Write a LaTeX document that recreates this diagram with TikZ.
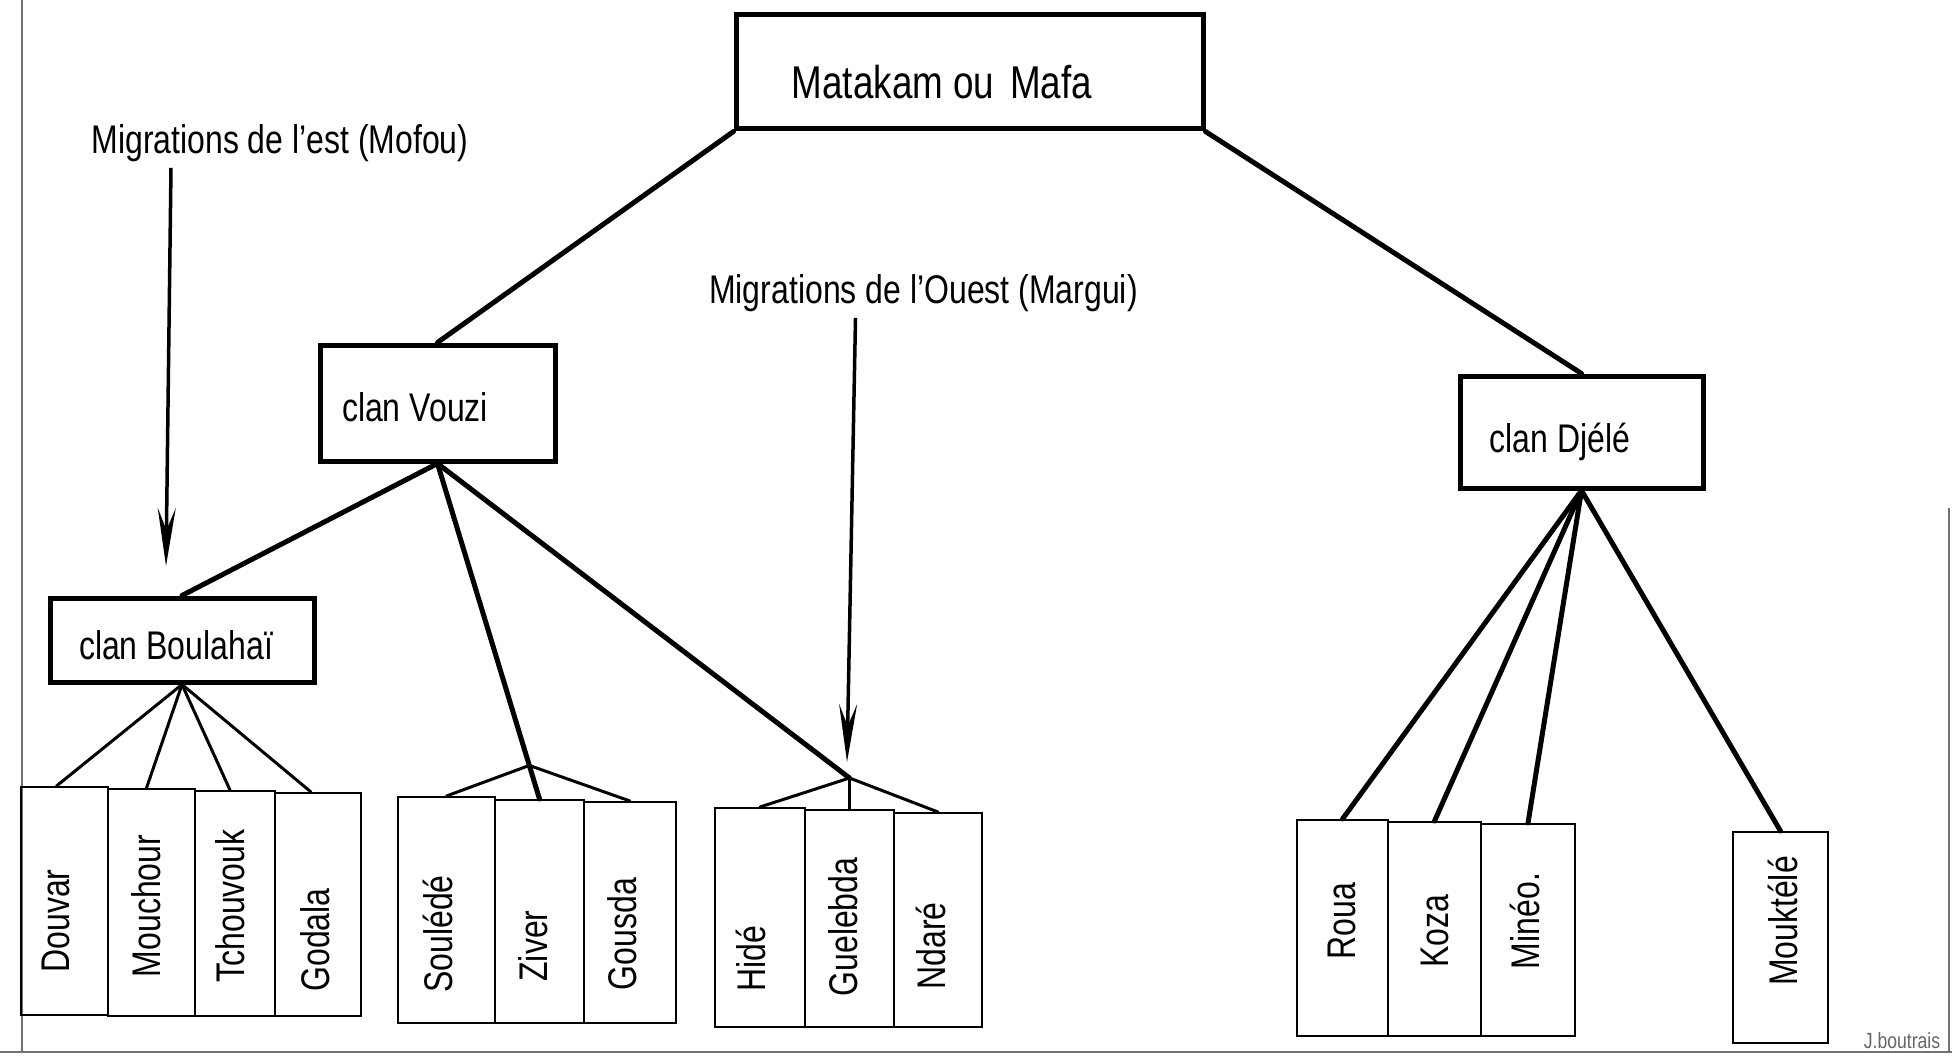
\documentclass[tikz,border=0pt]{standalone}
\usepackage{fontspec}
\setmainfont{Liberation Sans}[FakeStretch=0.8]
\usetikzlibrary{arrows.meta,calc}
\begin{document}
\begin{tikzpicture}[x=1pt,y=-1pt,
  clanbox/.style={draw, line width=5pt, inner sep=0pt},
  leafbox/.style={draw, line width=2pt, inner sep=0pt},
  lbl/.style={inner sep=0pt, font=\fontsize{40}{44}\selectfont},
  toplbl/.style={inner sep=0pt, font=\fontsize{46}{50}\selectfont},
  leaflbl/.style={inner sep=0pt, rotate=90, font=\fontsize{40}{44}\selectfont},
  conn/.style={line width=5pt, line cap=round},
  fan/.style={line width=3pt, line cap=round},
  migr/.style={line width=3.5pt, -{Stealth[length=58pt,width=18pt,inset=22pt]}},
  framel/.style={line width=1.2pt, black!55}]
\useasboundingbox (0,0) rectangle (1952,1062);
\fill[white] (0,0) rectangle (1952,1062);

% frame
\draw[framel] (22,0) -- (22,1052);
\draw[framel] (0,1052) -- (1952,1052);
\draw[framel] (1949,508) -- (1949,1052);
\node[inner sep=0pt, text=black!60, font=\fontsize{22}{24}\selectfont] (sig) at (1902,1041) {J.boutrais};

% clan boxes
\node[clanbox, minimum width=467pt, minimum height=114pt] (mat) at (969.5,72) {};
\node[toplbl] (matt) at (942,82) {Matakam ou\hspace{16pt}Mafa};
\node[clanbox, minimum width=235pt, minimum height=116pt] (vou) at (437.5,403) {};
\node[lbl] (vout) at (415,407) {clan Vouzi};
\node[clanbox, minimum width=243pt, minimum height=112pt] (dje) at (1581.5,432) {};
\node[lbl] (djet) at (1560,442) {clan Djélé};
\node[clanbox, minimum width=264pt, minimum height=84pt] (bou) at (182,640) {};
\node[lbl] (bout) at (176,645) {clan Boulahaï};

% leaf boxes
\node[leafbox, minimum width=87pt, minimum height=228pt] (douvar) at (64.5,901) {};
\node[leafbox, minimum width=87pt, minimum height=227pt] (mouch) at (151.5,902.5) {};
\node[leafbox, minimum width=80pt, minimum height=225pt] (tchou) at (235,903.5) {};
\node[leafbox, minimum width=86pt, minimum height=223pt] (goda) at (318,904.5) {};

\node[leafbox, minimum width=97pt, minimum height=226pt] (soul) at (446.5,910) {};
\node[leafbox, minimum width=89pt, minimum height=223pt] (ziv) at (539.5,911.5) {};
\node[leafbox, minimum width=92pt, minimum height=221pt] (gous) at (630,912.5) {};

\node[leafbox, minimum width=90pt, minimum height=219pt] (hide) at (760,917.5) {};
\node[leafbox, minimum width=89pt, minimum height=217pt] (guel) at (849.5,918.5) {};
\node[leafbox, minimum width=88pt, minimum height=214pt] (ndare) at (938,920) {};

\node[leafbox, minimum width=91pt, minimum height=216pt] (roua) at (1342.5,928) {};
\node[leafbox, minimum width=93pt, minimum height=214pt] (koza) at (1434.5,929) {};
\node[leafbox, minimum width=94pt, minimum height=212pt] (mineo) at (1528,930) {};
\node[leafbox, minimum width=95pt, minimum height=211pt] (mouk) at (1780.5,937.5) {};

% leaf labels
\node[leaflbl] (douvart) at (56,921) {Douvar};
\node[leaflbl] (moucht) at (146,906) {Mouchour};
\node[leaflbl] (tchout) at (230,906) {Tchouvouk};
\node[leaflbl] (godat) at (315,940) {Godala};
\node[leaflbl] (soult) at (438,934) {Soulédé};
\node[leaflbl] (zivt) at (533,946) {Ziver};
\node[leaflbl] (goust) at (622,934) {Gousda};
\node[leaflbl] (hidet) at (751,959) {Hidé};
\node[leaflbl] (guelt) at (843,927) {Guelebda};
\node[leaflbl] (ndaret) at (931,946) {Ndaré};
\node[leaflbl] (rouat) at (1342,921) {Roua};
\node[leaflbl] (kozat) at (1435,931) {Koza};
\node[leaflbl] (mineot) at (1525,921) {Minéo.};
\node[leaflbl] (moukt) at (1783,921) {Mouktélé};

% migration labels and arrows
\node[lbl] (mest) at (280,143) {Migrations de l'est (Mofou)};
\coordinate (mestend) at (166,566);
\draw[migr] ([xshift=-109pt,yshift=-6pt]mest.south) -- (mestend);
\node[lbl] (mouest) at (923.5,293) {Migrations de l'Ouest (Margui)};
\coordinate (mouestend) at (847,762);
\draw[migr] ([xshift=-68pt,yshift=-6pt]mouest.south) -- (mouestend);

% main connectors
\draw[conn] (mat.south west) -- (vou.north);
\draw[conn] (mat.south east) -- (dje.north);
\draw[conn] (vou.south) -- (bou.north);
\draw[conn] (vou.south) -- (ziv.north);
\coordinate (vapex) at ($(vou.south)!0.9!(ziv.north)$);
\draw[fan] (soul.north) -- (vapex) -- (gous.north);
\coordinate (hapex) at (849.5,778);
\draw[conn] (vou.south) -- (hapex);
\draw[fan] (hide.north) -- (hapex) -- (ndare.north);
\draw[fan] (hapex) -- (guel.north);

% Boulahai fan
\draw[fan] (bou.south) -- ([xshift=-8pt]douvar.north);
\draw[fan] (bou.south) -- ([xshift=-5pt]mouch.north);
\draw[fan] (bou.south) -- ([xshift=-5pt]tchou.north);
\draw[fan] (bou.south) -- ([xshift=-7pt]goda.north);

% Djele fan
\draw[conn] (dje.south) -- (roua.north);
\draw[conn] (dje.south) -- (koza.north);
\draw[conn] (dje.south) -- (mineo.north);
\draw[conn] (dje.south) -- (mouk.north);
\end{tikzpicture}
\end{document}
